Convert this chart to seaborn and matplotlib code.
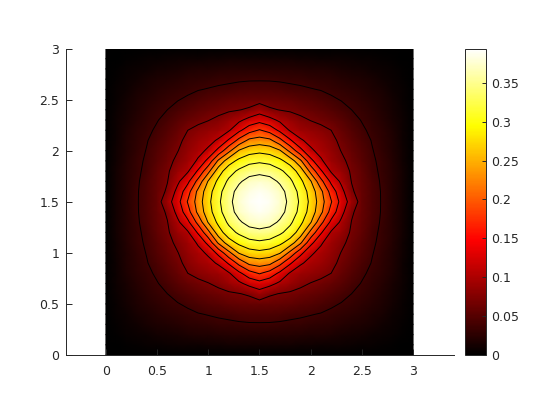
import seaborn as sns
import matplotlib.pyplot as plt
import numpy as np
from matplotlib.colors import LinearSegmentedColormap

# values, by distance from the centre in steps of 0.1
# (row = larger offset, column = smaller offset, the picture is symmetric)
rows = [
    [.394],
    [.389, .383],
    [.375, .370, .353],
    [.349, .344, .329, .307],
    [.316, .311, .295, .270, .222],
    [.277, .271, .253, .205, .155, .112],
    [.231, .224, .190, .148, .111, .098, .090],
    [.182, .165, .135, .103, .091, .085, .079, .072],
    [.130, .118, .100, .088, .078, .071, .066, .060, .051],
    [.091, .076, .071, .068, .064, .059, .054, .048, .042, .036],
    [.060, .059, .058, .056, .052, .048, .044, .039, .035, .031, .027],
    [.046, .045, .044, .041, .039, .037, .035, .032, .029, .026, .022, .018],
    [.034, .034, .033, .032, .031, .029, .0275, .025, .023, .020, .017, .014, .0105],
    [.023, .023, .022, .022, .021, .020, .0185, .017, .015, .0135, .011, .009, .007, .005],
    [.0115, .0115, .011, .011, .0105, .010, .009, .0085, .008, .007, .006, .005, .0035, .0025, .001],
    [0, 0, 0, 0, 0, 0, 0, 0, 0, 0, 0, 0, 0, 0, 0, 0],
]
levels = [.036, .072, .107, .143, .179, .215, .25, .286, .322, .358]
tick_vals = [0, .5, 1, 1.5, 2, 2.5, 3]
tick_labels = ['0', '0.5', '1', '1.5', '2', '2.5', '3']
cbar_vals = [0, .05, .1, .15, .2, .25, .3, .35]
cbar_labels = ['0', '0.05', '0.1', '0.15', '0.2', '0.25', '0.3', '0.35']
vmax = .394

field = np.zeros((31, 31))
for i in range(31):
    for j in range(31):
        a, b = abs(i - 15), abs(j - 15)
        field[i, j] = rows[max(a, b)][min(a, b)]

hot = LinearSegmentedColormap.from_list(
    'hot64', [(0, 'black'), (.375, 'red'), (.75, 'yellow'), (1, 'white')], N=256)

dark = (.15, .15, .15)
fig = plt.figure(figsize=(5.6, 4.2), dpi=100)
ax = fig.add_axes([66 / 560, 65 / 420, 388 / 560, 306.5 / 420])
cax = fig.add_axes([465 / 560, 65 / 420, 21 / 560, 306.5 / 420])

sns.heatmap(field, ax=ax, cbar_ax=cax, cmap=hot, vmin=0, vmax=vmax,
            shading='gouraud', xticklabels=False, yticklabels=False)
ax.contour(field, levels=levels, colors='k', linewidths=.7)

# grid index = value * 10
ax.set_xlim(-3.9, 34.0)
ax.set_ylim(0, 30)
ax.set_xticks([v * 10 for v in tick_vals], tick_labels)
ax.set_yticks([v * 10 for v in tick_vals], tick_labels)
ax.tick_params(direction='in', length=4, width=.7, color=dark, labelcolor=dark,
               labelsize=9, pad=5, bottom=True, left=True)
ax.tick_params(axis='x', pad=7)
sns.despine(ax=ax)
for s in ['left', 'bottom']:
    ax.spines[s].set_linewidth(.7)
    ax.spines[s].set_color(dark)

cb = ax.collections[0].colorbar
cb.outline.set_linewidth(.7)
cb.outline.set_edgecolor(dark)
cb.set_ticks(cbar_vals, labels=cbar_labels)
cax.tick_params(direction='in', length=3, width=.7, color=dark, labelcolor=dark,
                labelsize=9, pad=4)

fig.savefig('out.png', dpi=100)
